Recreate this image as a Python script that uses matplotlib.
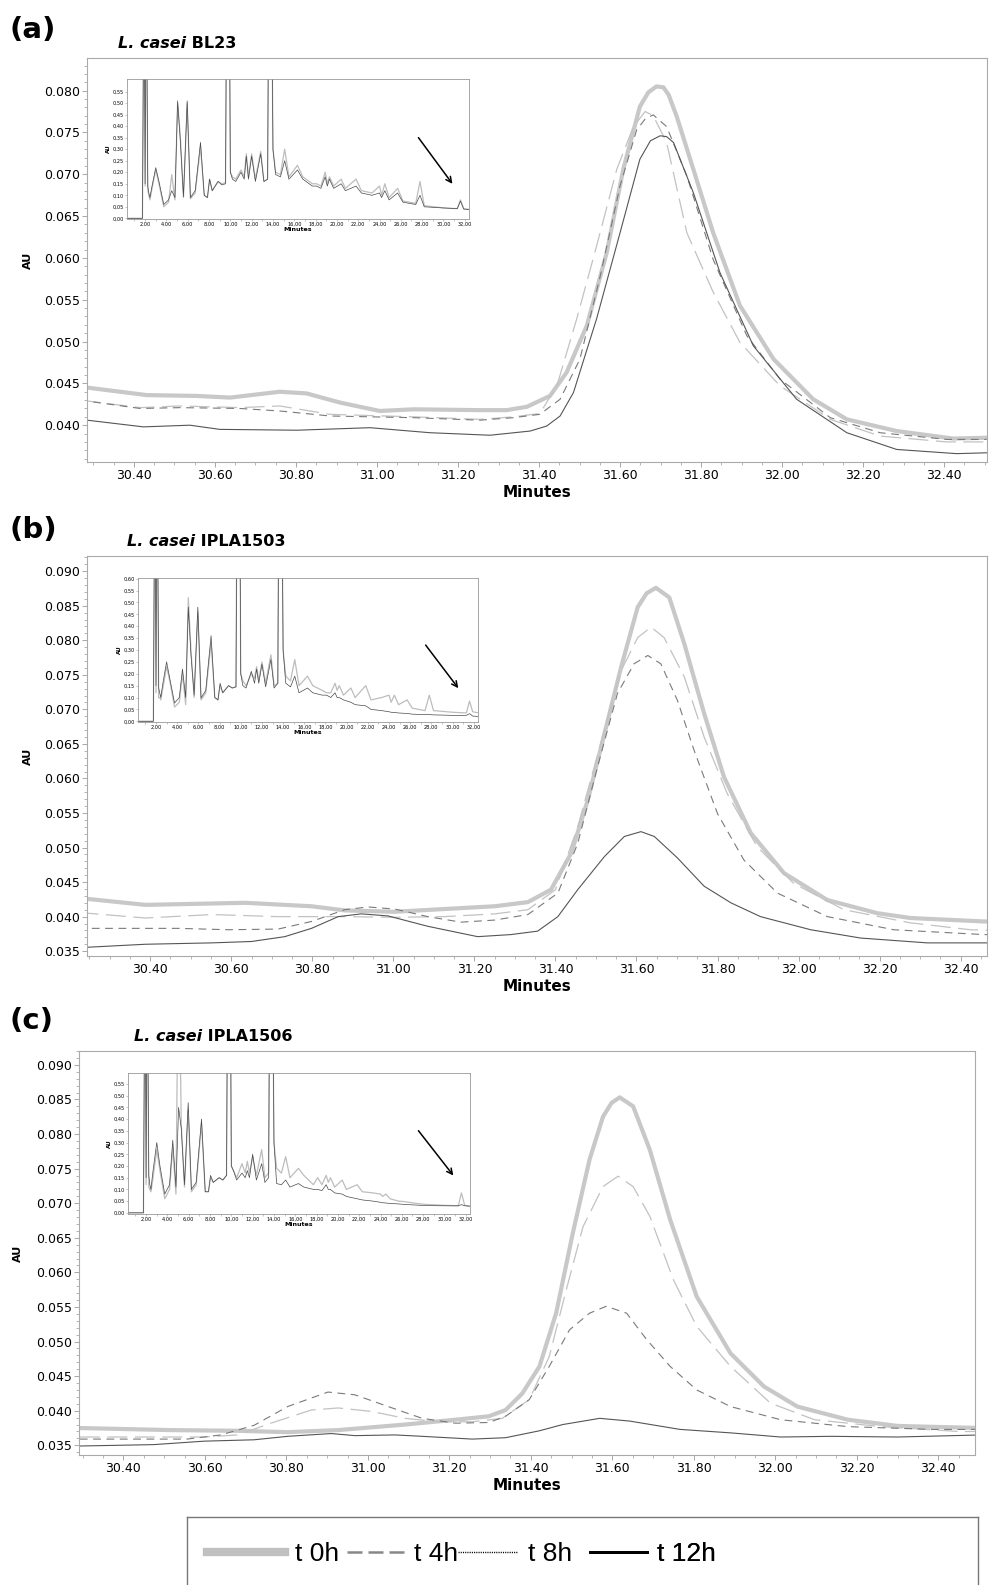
import numpy as np
import matplotlib
matplotlib.use('Agg')
import matplotlib.pyplot as plt
from matplotlib.ticker import MultipleLocator, FuncFormatter
from matplotlib.lines import Line2D

W, H = 989, 1585

# ---------------- panel (a)  L. casei BL23 ----------------
a_t0_x = [30.267, 30.431, 30.555, 30.637, 30.76, 30.826, 30.909, 31.007, 31.09, 31.254, 31.32, 31.37,
          31.427, 31.468, 31.518, 31.567, 31.608, 31.649, 31.67, 31.69, 31.707, 31.72, 31.74, 31.781,
          31.83, 31.896, 31.979, 32.077, 32.16, 32.283, 32.423, 32.505]
a_t0_y = [0.0446, 0.0436, 0.0435, 0.0433, 0.0440, 0.0438, 0.0427, 0.0417, 0.0419, 0.0418, 0.0418, 0.0422,
          0.0435, 0.0463, 0.0519, 0.0606, 0.0706, 0.0781, 0.0798, 0.0805, 0.0804, 0.0795, 0.0769, 0.0706,
          0.0630, 0.0543, 0.0479, 0.0431, 0.0407, 0.0393, 0.0384, 0.0385]
a_t4_x = [30.267, 30.415, 30.514, 30.662, 30.76, 30.884, 31.09, 31.254, 31.337, 31.402, 31.444, 31.493,
          31.542, 31.592, 31.633, 31.662, 31.682, 31.715, 31.765, 31.83, 31.896, 31.995, 32.119, 32.242,
          32.407, 32.505]
a_t4_y = [0.0430, 0.0421, 0.0423, 0.0421, 0.0423, 0.0413, 0.0410, 0.0407, 0.0410, 0.0414, 0.0447, 0.0527,
          0.0614, 0.0706, 0.0757, 0.0775, 0.0770, 0.0738, 0.0630, 0.0559, 0.0499, 0.0447, 0.0407, 0.0387,
          0.0380, 0.0380]
a_t8_x = [30.267, 30.415, 30.514, 30.662, 30.76, 30.884, 31.09, 31.254, 31.337, 31.402, 31.452, 31.501,
          31.551, 31.60, 31.641, 31.662, 31.682, 31.715, 31.765, 31.83, 31.913, 31.995, 32.119, 32.242,
          32.407, 32.505]
a_t8_y = [0.0430, 0.0420, 0.0421, 0.0420, 0.0417, 0.0411, 0.0409, 0.0406, 0.0409, 0.0413, 0.0431, 0.0479,
          0.0578, 0.0686, 0.0753, 0.0766, 0.0771, 0.0757, 0.0698, 0.0598, 0.0507, 0.0455, 0.0409, 0.0391,
          0.0383, 0.0383]
a_t12_x = [30.267, 30.423, 30.538, 30.612, 30.802, 30.983, 31.131, 31.279, 31.378, 31.419, 31.452, 31.485,
           31.542, 31.60, 31.649, 31.675, 31.699, 31.715, 31.732, 31.781, 31.847, 31.929, 32.036, 32.16,
           32.283, 32.431, 32.505]
a_t12_y = [0.0407, 0.0398, 0.0400, 0.0395, 0.0394, 0.0397, 0.0391, 0.0388, 0.0393, 0.0399, 0.0411, 0.0439,
           0.0527, 0.0630, 0.0718, 0.0740, 0.0746, 0.0745, 0.0738, 0.0678, 0.0582, 0.0495, 0.0431, 0.0391,
           0.0371, 0.0366, 0.0367]

# ---------------- panel (b)  L. casei IPLA1503 ----------------
b_t0_x = [30.223, 30.388, 30.634, 30.798, 30.88, 31.003, 31.126, 31.25, 31.332, 31.389, 31.439, 31.48,
          31.521, 31.562, 31.603, 31.625, 31.648, 31.681, 31.718, 31.767, 31.816, 31.882, 31.964, 32.071,
          32.194, 32.276, 32.457, 32.48]
b_t0_y = [0.0427, 0.0417, 0.0420, 0.0415, 0.0409, 0.0407, 0.0411, 0.0415, 0.0421, 0.0439, 0.0492, 0.0569,
          0.0665, 0.0761, 0.0848, 0.0868, 0.0876, 0.0862, 0.0795, 0.0694, 0.0602, 0.0521, 0.0463, 0.0424,
          0.0405, 0.0398, 0.0393, 0.0393]
b_t4_x = [30.223, 30.388, 30.552, 30.716, 30.88, 31.003, 31.126, 31.25, 31.332, 31.40, 31.455, 31.512,
          31.562, 31.603, 31.636, 31.668, 31.718, 31.767, 31.824, 31.898, 31.988, 32.112, 32.276, 32.424,
          32.48]
b_t4_y = [0.0406, 0.0398, 0.0403, 0.0400, 0.0400, 0.0399, 0.0400, 0.0404, 0.0410, 0.0439, 0.0530, 0.0651,
          0.0756, 0.0804, 0.0819, 0.0804, 0.0747, 0.0660, 0.0578, 0.0501, 0.0448, 0.0410, 0.0391, 0.0381,
          0.0380]
b_t8_x = [30.223, 30.47, 30.593, 30.716, 30.798, 30.88, 30.937, 31.003, 31.085, 31.167, 31.25, 31.332,
          31.406, 31.455, 31.504, 31.553, 31.594, 31.628, 31.66, 31.701, 31.742, 31.80, 31.865, 31.948,
          32.071, 32.235, 32.457, 32.48]
b_t8_y = [0.0383, 0.0383, 0.0381, 0.0382, 0.0393, 0.0410, 0.0414, 0.0411, 0.0400, 0.0392, 0.0395, 0.0403,
          0.0434, 0.0506, 0.0617, 0.0723, 0.0766, 0.0778, 0.0766, 0.0713, 0.0641, 0.0549, 0.0482, 0.0434,
          0.0400, 0.0381, 0.0374, 0.0374]
b_t12_x = [30.223, 30.388, 30.552, 30.65, 30.732, 30.798, 30.864, 30.921, 30.987, 31.085, 31.208, 31.29,
           31.356, 31.406, 31.455, 31.521, 31.570, 31.611, 31.644, 31.701, 31.767, 31.833, 31.906, 32.03,
           32.153, 32.317, 32.48]
b_t12_y = [0.0355, 0.0360, 0.0362, 0.0364, 0.0371, 0.0383, 0.0400, 0.0404, 0.0401, 0.0386, 0.0371, 0.0374,
           0.0379, 0.0400, 0.0439, 0.0487, 0.0516, 0.0523, 0.0516, 0.0485, 0.0444, 0.0420, 0.0400, 0.0381,
           0.0369, 0.0362, 0.0362]

# ---------------- panel (c)  L. casei IPLA1506 ----------------
c_t0_x = [30.293, 30.515, 30.68, 30.803, 30.927, 31.091, 31.215, 31.297, 31.338, 31.379, 31.421, 31.462,
          31.503, 31.544, 31.577, 31.598, 31.618, 31.651, 31.692, 31.742, 31.807, 31.89, 31.972, 32.054,
          32.178, 32.301, 32.505]
c_t0_y = [0.0375, 0.0372, 0.0371, 0.0369, 0.0372, 0.0380, 0.0387, 0.0392, 0.0401, 0.0425, 0.0464, 0.0541,
          0.0657, 0.0763, 0.0825, 0.0845, 0.0853, 0.0840, 0.0777, 0.0676, 0.0565, 0.0483, 0.0435, 0.0406,
          0.0387, 0.0378, 0.0375]
c_t4_x = [30.293, 30.598, 30.68, 30.762, 30.861, 30.927, 31.009, 31.091, 31.174, 31.256, 31.33, 31.396,
          31.445, 31.487, 31.528, 31.577, 31.614, 31.651, 31.692, 31.75, 31.807, 31.89, 31.988, 32.096,
          32.26, 32.45, 32.505]
c_t4_y = [0.0362, 0.0362, 0.0365, 0.0382, 0.0401, 0.0404, 0.0399, 0.0389, 0.0384, 0.0384, 0.0389, 0.0416,
          0.0478, 0.0575, 0.0666, 0.0724, 0.0739, 0.0724, 0.0681, 0.0589, 0.0522, 0.0464, 0.0411, 0.0387,
          0.0377, 0.0370, 0.0370]
c_t8_x = [30.293, 30.556, 30.639, 30.721, 30.803, 30.902, 30.968, 31.05, 31.133, 31.215, 31.297, 31.338,
          31.396, 31.445, 31.495, 31.544, 31.585, 31.635, 31.684, 31.742, 31.807, 31.89, 32.013, 32.178,
          32.384, 32.505]
c_t8_y = [0.0359, 0.0359, 0.0365, 0.0379, 0.0406, 0.0427, 0.0423, 0.0406, 0.0389, 0.0382, 0.0383, 0.0392,
          0.0416, 0.0464, 0.0517, 0.0541, 0.0551, 0.0541, 0.0503, 0.0464, 0.0430, 0.0406, 0.0387, 0.0377,
          0.0373, 0.0373]
c_t12_x = [30.293, 30.474, 30.598, 30.721, 30.803, 30.91, 30.968, 31.067, 31.133, 31.256, 31.338, 31.421,
           31.478, 31.569, 31.643, 31.766, 31.89, 32.013, 32.137, 32.30, 32.505]
c_t12_y = [0.0349, 0.0351, 0.0356, 0.0358, 0.0363, 0.0367, 0.0364, 0.0365, 0.0363, 0.0359, 0.0361, 0.0371,
           0.0380, 0.0389, 0.0385, 0.0373, 0.0368, 0.0362, 0.0363, 0.0362, 0.0365]

# ---------------- insets: full chromatograms (0-32 min) ----------------
ins_t = [0.3, 1.75, 1.9, 2.0, 2.1, 2.25, 2.35, 2.45, 2.65, 3.0,
         3.3, 3.75, 4.2, 4.5, 4.8, 5.05, 5.3, 5.6, 5.95, 6.25,
         6.7, 7.2, 7.55, 7.85, 8.05, 8.3, 8.85, 9.2, 9.55, 9.7,
         9.85, 10.0, 10.2, 10.5, 11.0, 11.3, 11.5, 11.7, 12.0, 12.35,
         12.85, 13.15, 13.5, 13.65, 13.8, 14.0, 14.25, 14.7, 15.1, 15.5,
         16.3, 16.8, 17.7, 18.1, 18.5, 18.9, 19.1, 19.3, 19.7, 20.4,
         20.8, 21.8, 22.3, 23.3, 24.0, 24.2, 24.5, 24.9, 25.7, 26.2,
         27.4, 27.8, 28.2, 30.0, 31.3, 31.6, 31.9, 32.5]
ins_a_dark = [0.0, 0.0, 1.2, 0.15, 1.2, 0.14, 0.11, 0.09, 0.14, 0.22,
              0.16, 0.06, 0.08, 0.12, 0.09, 0.51, 0.34, 0.094, 0.51, 0.09,
              0.12, 0.33, 0.10, 0.09, 0.17, 0.12, 0.16, 0.145, 0.15, 1.5,
              1.5, 0.2, 0.17, 0.16, 0.20, 0.17, 0.27, 0.17, 0.27, 0.16,
              0.28, 0.16, 0.17, 1.5, 1.5, 0.3, 0.19, 0.18, 0.25, 0.17,
              0.21, 0.17, 0.14, 0.14, 0.13, 0.18, 0.14, 0.17, 0.13, 0.15,
              0.12, 0.14, 0.11, 0.10, 0.11, 0.09, 0.12, 0.08, 0.11, 0.07,
              0.06, 0.10, 0.05, 0.045, 0.042, 0.075, 0.04, 0.038]
ins_a_light = [0.0, 0.0, 1.2, 0.14, 1.2, 0.12, 0.10, 0.08, 0.13, 0.21,
               0.15, 0.05, 0.07, 0.19, 0.08, 0.50, 0.36, 0.09, 0.50, 0.085,
               0.11, 0.31, 0.10, 0.09, 0.17, 0.12, 0.16, 0.15, 0.155, 1.5,
               1.5, 0.2, 0.18, 0.17, 0.21, 0.18, 0.28, 0.18, 0.28, 0.17,
               0.29, 0.16, 0.17, 1.5, 1.5, 0.3, 0.20, 0.19, 0.30, 0.18,
               0.23, 0.18, 0.15, 0.15, 0.14, 0.20, 0.15, 0.18, 0.14, 0.17,
               0.13, 0.17, 0.12, 0.11, 0.14, 0.10, 0.15, 0.09, 0.13, 0.075,
               0.065, 0.16, 0.055, 0.045, 0.042, 0.08, 0.042, 0.038]
ins_b_dark = [0.0, 0.0, 1.2, 0.15, 1.2, 0.14, 0.12, 0.10, 0.16, 0.25,
              0.18, 0.077, 0.10, 0.22, 0.10, 0.48, 0.28, 0.11, 0.48, 0.098,
              0.13, 0.36, 0.10, 0.09, 0.16, 0.12, 0.15, 0.14, 0.145, 1.5,
              1.5, 0.2, 0.15, 0.14, 0.21, 0.16, 0.22, 0.16, 0.24, 0.145,
              0.26, 0.14, 0.16, 1.5, 1.5, 0.3, 0.16, 0.145, 0.19, 0.12,
              0.14, 0.12, 0.11, 0.11, 0.10, 0.12, 0.10, 0.10, 0.09, 0.08,
              0.07, 0.065, 0.05, 0.045, 0.04, 0.038, 0.037, 0.035, 0.033, 0.03,
              0.028, 0.028, 0.027, 0.025, 0.025, 0.032, 0.022, 0.02]
ins_b_light = [0.0, 0.0, 1.2, 0.12, 1.2, 0.10, 0.10, 0.09, 0.14, 0.23,
               0.17, 0.06, 0.08, 0.20, 0.07, 0.52, 0.30, 0.10, 0.46, 0.09,
               0.12, 0.33, 0.10, 0.09, 0.15, 0.12, 0.15, 0.14, 0.145, 1.5,
               1.5, 0.2, 0.17, 0.15, 0.20, 0.18, 0.23, 0.17, 0.25, 0.16,
               0.28, 0.15, 0.16, 1.5, 1.5, 0.3, 0.19, 0.17, 0.26, 0.15,
               0.19, 0.15, 0.13, 0.12, 0.12, 0.16, 0.13, 0.15, 0.11, 0.14,
               0.10, 0.15, 0.09, 0.10, 0.11, 0.08, 0.11, 0.07, 0.09, 0.055,
               0.045, 0.11, 0.045, 0.038, 0.035, 0.085, 0.04, 0.035]
ins_c_dark = [0.0, 0.0, 1.2, 0.15, 1.2, 0.16, 0.12, 0.10, 0.18, 0.30,
              0.20, 0.08, 0.12, 0.31, 0.11, 0.45, 0.36, 0.12, 0.47, 0.10,
              0.13, 0.40, 0.09, 0.09, 0.16, 0.13, 0.15, 0.14, 0.16, 1.5,
              1.5, 0.2, 0.18, 0.14, 0.17, 0.15, 0.18, 0.15, 0.25, 0.14,
              0.21, 0.13, 0.15, 1.5, 1.5, 0.3, 0.125, 0.12, 0.14, 0.11,
              0.125, 0.11, 0.10, 0.10, 0.095, 0.12, 0.10, 0.10, 0.085, 0.08,
              0.07, 0.06, 0.055, 0.05, 0.045, 0.043, 0.042, 0.04, 0.038, 0.036,
              0.033, 0.032, 0.031, 0.03, 0.03, 0.035, 0.03, 0.028]
ins_c_light = [0.0, 0.0, 1.2, 0.12, 1.2, 0.11, 0.10, 0.09, 0.15, 0.27,
               0.18, 0.06, 0.10, 0.28, 0.08, 1.2, 0.38, 0.11, 0.44, 0.09,
               0.12, 0.38, 0.09, 0.09, 0.15, 0.13, 0.15, 0.14, 0.16, 1.5,
               1.5, 0.2, 0.18, 0.15, 0.21, 0.17, 0.22, 0.17, 0.24, 0.16,
               0.27, 0.15, 0.17, 1.5, 1.5, 0.3, 0.19, 0.17, 0.24, 0.15,
               0.19, 0.16, 0.12, 0.15, 0.12, 0.16, 0.13, 0.15, 0.11, 0.14,
               0.10, 0.12, 0.09, 0.085, 0.08, 0.07, 0.08, 0.06, 0.05, 0.048,
               0.04, 0.038, 0.036, 0.032, 0.03, 0.085, 0.032, 0.028]

labels = ['t 0h', 't 4h', 't 8h', 't 12h']
strains = ['BL23', 'IPLA1503', 'IPLA1506']


def box(l, t, r, b):
    # pixel box -> figure fraction
    return [l / W, 1 - b / H, (r - l) / W, (b - t) / H]


fig = plt.figure(figsize=(W / 100, H / 100), dpi=100)

grey_tick = '#999999'
styles = [dict(color='#c8c8c8', lw=3.0, solid_capstyle='round'),
          dict(color='#c2c2c2', lw=0.9, dashes=(16, 6)),
          dict(color='#7a7a7a', lw=0.8, dashes=(7, 5)),
          dict(color='#555555', lw=0.8)]


def main_panel(rect, xlim, ylim, ytop, curves, ylab_x):
    ax = fig.add_axes(rect)
    for (xs, ys), st in zip(curves, styles):
        ax.plot(xs, ys, **st)
    ax.set_xlim(*xlim)
    ax.set_ylim(*ylim)
    ax.set_xticks(np.arange(30.4, 32.41, 0.2))
    ax.set_yticks(np.arange(0.035 if ylim[0] < 0.035 else 0.040, ytop + 0.0001, 0.005))
    ax.xaxis.set_minor_locator(MultipleLocator(0.05))
    ax.yaxis.set_minor_locator(MultipleLocator(0.001))
    ax.xaxis.set_major_formatter(FuncFormatter(lambda v, p: '%.2f' % v))
    ax.yaxis.set_major_formatter(FuncFormatter(lambda v, p: '%.3f' % v))
    ax.tick_params(which='major', direction='out', length=3.5, width=0.6, color=grey_tick,
                   labelsize=9, pad=1.5)
    ax.tick_params(which='minor', direction='out', length=2, width=0.5, color=grey_tick)
    for s in ax.spines.values():
        s.set_color('#aaaaaa')
        s.set_linewidth(0.8)
    ax.set_xlabel('Minutes', fontsize=11, fontweight='bold', labelpad=2)
    ax.set_ylabel('AU', fontsize=8, fontweight='bold')
    ax.yaxis.set_label_coords(ylab_x, 0.5)
    return ax


def inset(rect, ylim, ytop, dark, light, arrow):
    ia = fig.add_axes(rect, zorder=5)
    ia.set_facecolor('white')
    ia.plot(ins_t, light, color='#bdbdbd', lw=0.9)
    ia.plot(ins_t, dark, color='#4a4a4a', lw=0.5)
    ia.set_xlim(0.3, 32.4)
    ia.set_ylim(*ylim)
    ia.set_xticks(np.arange(2, 33, 2))
    ia.set_yticks(np.arange(0, ytop + 0.001, 0.05))
    ia.xaxis.set_minor_locator(MultipleLocator(1))
    fmt = FuncFormatter(lambda v, p: ('%.2f' % v).replace('.', ','))
    ia.xaxis.set_major_formatter(fmt)
    ia.yaxis.set_major_formatter(fmt)
    ia.tick_params(which='both', direction='out', length=1.2, width=0.4, color=grey_tick,
                   labelsize=3.6, pad=0.8)
    for s in ia.spines.values():
        s.set_color('#999999')
        s.set_linewidth(0.6)
    ia.set_xlabel('Minutes', fontsize=4.5, fontweight='bold', labelpad=0.5)
    ia.set_ylabel('AU', fontsize=4, fontweight='bold', labelpad=1)
    ia.annotate('', xy=arrow[1], xytext=arrow[0],
                arrowprops=dict(arrowstyle='->', lw=1.1, color='black', mutation_scale=10))
    return ia


ax_a = main_panel(box(87, 58, 987, 462), (30.284, 32.506), (0.0356, 0.0839), 0.080,
                  [(a_t0_x, a_t0_y), (a_t4_x, a_t4_y), (a_t8_x, a_t8_y), (a_t12_x, a_t12_y)], -0.06)
ax_b = main_panel(box(87, 556, 987, 956), (30.244, 32.465), (0.0343, 0.0922), 0.090,
                  [(b_t0_x, b_t0_y), (b_t4_x, b_t4_y), (b_t8_x, b_t8_y), (b_t12_x, b_t12_y)], -0.06)
ax_c = main_panel(box(79, 1051, 975, 1455), (30.291, 32.49), (0.0336, 0.0920), 0.090,
                  [(c_t0_x, c_t0_y), (c_t4_x, c_t4_y), (c_t8_x, c_t8_y), (c_t12_x, c_t12_y)], -0.0625)

inset(box(127, 79, 469, 219), (-0.003, 0.605), 0.55, ins_a_dark, ins_a_light,
      ((27.5, 0.36), (31.0, 0.14)))
inset(box(138, 578, 478, 722), (-0.003, 0.603), 0.60, ins_b_dark, ins_b_light,
      ((27.3, 0.33), (30.7, 0.13)))
inset(box(128, 1073, 470, 1214), (-0.005, 0.597), 0.55, ins_c_dark, ins_c_light,
      ((27.4, 0.36), (31.0, 0.15)))

# panel letters and strain titles
for letter, ypx in zip(['(a)', '(b)', '(c)'], [30, 530, 1021]):
    fig.text(10 / W, 1 - ypx / H, letter, fontsize=21, fontweight='bold', va='center', ha='left')

for ax, name, xpx, ypx in zip([ax_a, ax_b, ax_c], strains, [118, 127, 134], [47.5, 546, 1041]):
    t1 = fig.text(xpx / W, 1 - ypx / H, 'L. casei', fontsize=11.5, fontweight='bold',
                  fontstyle='italic', va='baseline', ha='left')
    ax.annotate(' ' + name, xy=(1, 0), xycoords=t1, va='bottom', ha='left',
                fontsize=11.5, fontweight='bold', annotation_clip=False)

# legend box at the bottom, one entry per legend so each key keeps its own place
lax = fig.add_axes(box(187, 1517, 978, 1600))
lax.set_xticks([])
lax.set_yticks([])
for s in lax.spines.values():
    s.set_color('#777777')
    s.set_linewidth(1.0)
handles = [Line2D([], [], color='#c0c0c0', lw=6),
           Line2D([], [], color='#888888', lw=1.8, dashes=(6, 2.4)),
           Line2D([], [], color='black', lw=1.0, dashes=(0.8, 0.8)),
           Line2D([], [], color='black', lw=2.0)]
key_x = [0.0253, 0.202, 0.3426, 0.5095]
key_len = [2.95, 2.16, 2.27, 2.16]
for h, lab, kx, kl in zip(handles, labels, key_x, key_len):
    leg = lax.legend([h], [lab], loc='center left', bbox_to_anchor=(kx, 0.554),
                     frameon=False, handlelength=kl, handletextpad=0.38,
                     borderpad=0, borderaxespad=0,
                     prop=dict(family=['Liberation Sans', 'DejaVu Sans'], size=19))
    lax.add_artist(leg)

fig.savefig('out.png', dpi=100)
